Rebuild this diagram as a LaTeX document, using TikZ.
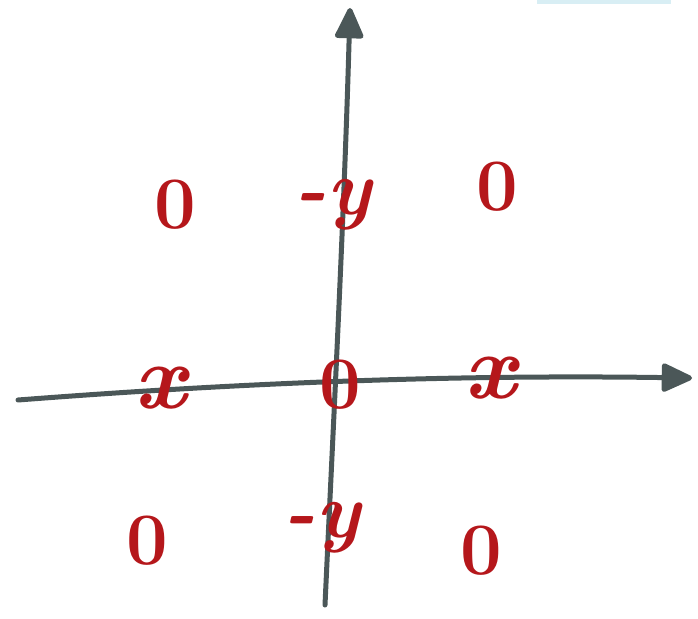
\documentclass[tikz,border=0pt]{standalone}
\usetikzlibrary{arrows.meta}
\definecolor{axisgray}{HTML}{4B5758}
\definecolor{inkred}{HTML}{B5171B}
\definecolor{paleblue}{HTML}{D8EEF4}
\begin{document}
\begin{tikzpicture}[x=1pt,y=-1pt,
  axis/.style={draw=axisgray,line width=5pt,line cap=round,
    -{Triangle[length=34pt,width=30pt,round]}},
  zero/.style={text=inkred,font=\fontsize{74}{74}\selectfont\bfseries,inner sep=0pt},
  xlab/.style={text=inkred,font=\fontsize{92}{92}\selectfont\bfseries\itshape,inner sep=0pt},
  ylab/.style={text=inkred,font=\fontsize{78}{78}\selectfont\bfseries\itshape,inner sep=0pt}]
\useasboundingbox (0,0) rectangle (698,618);
\fill[paleblue] (537,0) rectangle (671,4);
\coordinate (vb) at (325,605);
\coordinate (vt) at (350,8);
\coordinate (hl) at (18,400);
\coordinate (hr) at (692,378);
\draw[axis] (vb) .. controls (333,430) and (344,220) .. (vt);
\draw[axis] (hl) .. controls (200,386) and (420,374) .. (hr);
\node[zero] (z1) at (175,205) {0};
\node[zero] (z2) at (497,187) {0};
\node[zero] (z0) at (340,385) {0};
\node[zero] (z3) at (147,541) {0};
\node[zero] (z4) at (481,551) {0};
\node[xlab] (x1) at (160,388) {x};
\node[xlab] (x2) at (490,378) {x};
\node[ylab] (y1) at (333,205) {-y};
\node[ylab] (y2) at (322,528) {-y};
\end{tikzpicture}
\end{document}
